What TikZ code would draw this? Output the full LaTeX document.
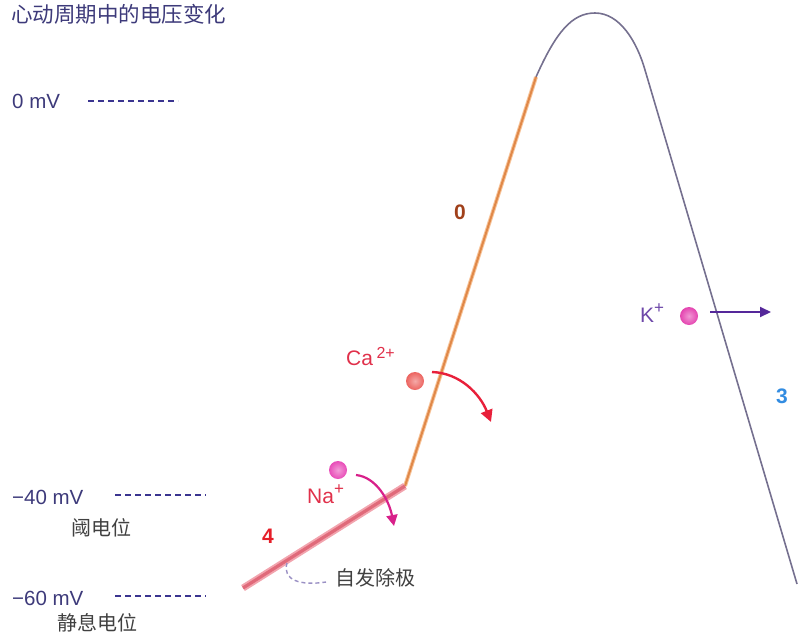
\documentclass[tikz,border=0pt]{standalone}
\usepackage{fontspec}
\setmainfont{Liberation Sans}
\newfontfamily\cjk{Noto Sans CJK SC}
\usetikzlibrary{arrows.meta}
\definecolor{titlec}{HTML}{3D3A7A}
\definecolor{dashc}{HTML}{3B3590}
\definecolor{pinkl}{HTML}{F2A4AE}
\definecolor{pinkd}{HTML}{E06A7A}
\definecolor{orl}{HTML}{F7C49A}
\definecolor{ord}{HTML}{E08848}
\definecolor{repc}{HTML}{75708F}
\definecolor{sdc}{HTML}{9A90C4}
\definecolor{caball}{HTML}{EC6460}
\definecolor{caarrow}{HTML}{E8203A}
\definecolor{iontxt}{HTML}{E0304A}
\definecolor{naball}{HTML}{E84CB8}
\definecolor{naarrow}{HTML}{D8208A}
\definecolor{kball}{HTML}{E444B0}
\definecolor{karrow}{HTML}{55289A}
\definecolor{graytxt}{HTML}{404040}
\tikzset{
  mvlabel/.style={text=titlec, font=\fontsize{20.5}{20.5}\selectfont, anchor=west, inner sep=0},
  cnlabel/.style={text=graytxt, font=\cjk\fontsize{20}{20}\selectfont, inner sep=0},
  levelline/.style={dashc, line width=2pt, dash pattern=on 6pt off 4pt},
  phasenum/.style={font=\bfseries\fontsize{21}{21}\selectfont, inner sep=0},
  iontext/.style={font=\fontsize{21}{21}\selectfont, inner sep=0, anchor=base west},
  ionball/.style={circle, minimum size=18pt, inner sep=0, shading=radial, inner color=#1!55!white, outer color=#1},
}
\begin{document}
\begin{tikzpicture}[x=1pt,y=-1pt]
\useasboundingbox (0,0) rectangle (800,635);
% title
\node[anchor=west, text=titlec, font=\cjk\fontsize{21.5}{21.5}\selectfont, inner sep=0] (title) at (11,14) {心动周期中的电压变化};
% level labels
\node[mvlabel] (mv0) at (12,101) {0 mV};
\node[mvlabel] (mv40) at (12,497) {\textminus40 mV};
\node[mvlabel] (mv60) at (12,598) {\textminus60 mV};
\node[cnlabel] (thr) at (101,528) {阈电位};
\node[cnlabel] (rest) at (97,623) {静息电位};
\coordinate (d0a) at (88,101); \coordinate (d0b) at (178,101);
\coordinate (d40a) at (115,495); \coordinate (d40b) at (206,495);
\coordinate (d60a) at (115,596); \coordinate (d60b) at (206,596);
\draw[levelline] (d0a) -- (d0b);
\draw[levelline] (d40a) -- (d40b);
\draw[levelline] (d60a) -- (d60b);
% curve points
\coordinate (p4s) at (243,588);
\coordinate (p4e) at (405,486);
\coordinate (p0e) at (536,77);
\coordinate (peak) at (595,13);
\coordinate (p3a) at (645,70);
\coordinate (p3e) at (797,584);
% repolarisation curve
\draw[repc, line width=1.6pt] (p0e) .. controls (556,32) and (572,13) .. (peak)
  .. controls (620,13) and (637,42) .. (p3a) -- (p3e);
% phase 0
\draw[orl, line width=4pt] (p4e) -- (p0e);
\draw[ord, line width=2pt] (p4e) -- (p0e);
% phase 4
\draw[pinkl, line width=7pt] (p4s) -- (p4e);
\draw[pinkd, line width=3.2pt] (p4s) -- (p4e);
% phase numbers
\node[phasenum, text={rgb,255:red,160;green,64;blue,26}] (n0) at (460,212) {0};
\node[phasenum, text={rgb,255:red,230;green,30;blue,40}] (n4) at (268,536) {4};
\node[phasenum, text={rgb,255:red,50;green,140;blue,225}] (n3) at (782,396) {3};
% spontaneous depolarisation
\coordinate (sd1) at (287,563);
\coordinate (sd2) at (326,582);
\draw[sdc, line width=1.4pt, dash pattern=on 4pt off 3pt] (sd1) .. controls (282,580) and (300,586) .. (sd2);
\node[cnlabel, anchor=west] (spont) at (335,578) {自发除极};
% Ca
\node[iontext, text=iontxt] (catxt) at (346,365) {Ca\,\raisebox{0.6ex}{\fontsize{16}{16}\selectfont 2+}};
\node[ionball=caball] (caball) at (415,381) {};
\coordinate (caend) at (491,422);
\draw[caarrow, line width=2.4pt, -{Triangle[length=12pt,width=12pt]}] (432,372) .. controls (460,373) and (480,394) .. (caend);
% Na
\node[ionball=naball] (naball) at (338,470) {};
\node[iontext, text=iontxt] (natxt) at (307,503) {Na\raisebox{0.75ex}{\fontsize{17}{17}\selectfont +}};
\coordinate (naend) at (394,526);
\draw[naarrow, line width=2.2pt, -{Triangle[length=11pt,width=11pt]}] (356,475) .. controls (376,477) and (389,500) .. (naend);
% K
\node[iontext, text=karrow!85] (ktxt) at (640,322) {K\raisebox{0.75ex}{\fontsize{17}{17}\selectfont +}};
\node[ionball=kball] (kball) at (689,316) {};
\coordinate (kstart) at (710,312);
\coordinate (kend) at (771,312);
\draw[karrow, line width=2pt, -{Triangle[length=11pt,width=10pt]}] (kstart) -- (kend);
\end{tikzpicture}
\end{document}
